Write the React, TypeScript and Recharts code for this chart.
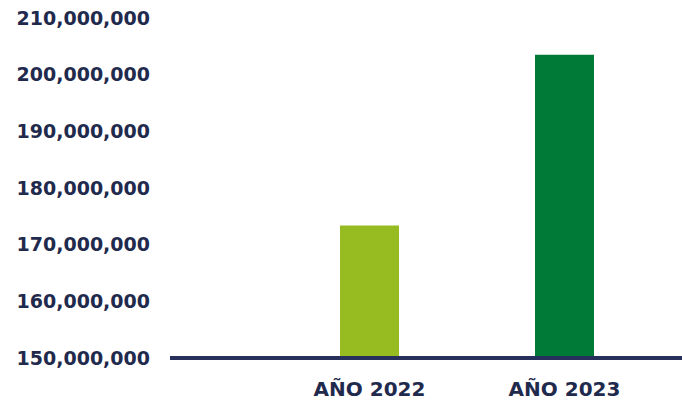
import {Bar, BarChart, Cell, XAxis, YAxis} from 'recharts';

const years = ['AÑO 2022', 'AÑO 2023'];
const amounts = [173400000, 203500000];
const barColors = ['#97BC22', '#007A37'];
const yTicks = [150000000, 160000000, 170000000, 180000000, 190000000, 200000000, 210000000];

const data = years.map((year, i) => ({
  year,
  value: amounts[i],
}));

const textColor = '#1F2A4D';
const font = 'DejaVu Sans';

export default function App() {
  return (
    <div style={{position: 'absolute', left: 0, top: 0}}>
      <BarChart
        width={682}
        height={405}
        data={data}
        margin={{top: 18, right: 0, bottom: 0, left: 0}}
      >
        <YAxis
          type="number"
          domain={[150000000, 210000000]}
          ticks={yTicks}
          width={170}
          axisLine={false}
          tickLine={false}
          tickMargin={14}
          interval={0}
          tick={{fill: textColor, fontSize: 19, fontWeight: 700, fontFamily: font}}
          tickFormatter={(value) => value.toLocaleString('en-US')}
        />
        <XAxis
          dataKey="year"
          height={47}
          padding={{left: 102, right: 20}}
          axisLine={{stroke: '#27305A', strokeWidth: 4}}
          tickLine={false}
          tickMargin={18}
          tick={{fill: textColor, fontSize: 20, fontWeight: 700, fontFamily: font}}
        />
        <Bar dataKey="value" barSize={59} isAnimationActive={false}>
          {data.map((entry, i) => (
            <Cell key={entry.year} fill={barColors[i]} />
          ))}
        </Bar>
      </BarChart>
    </div>
  );
}
